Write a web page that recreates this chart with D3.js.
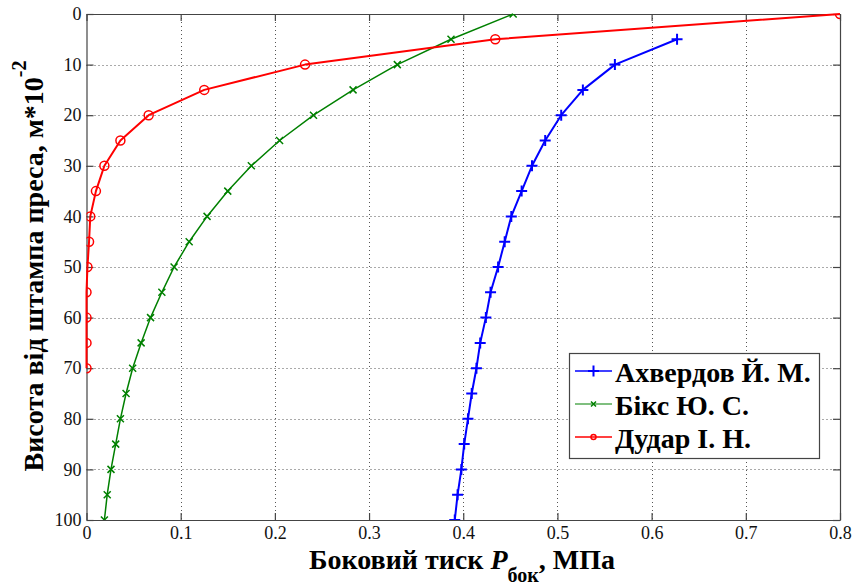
<!DOCTYPE html>
<html>
<head>
<meta charset="utf-8">
<script src="https://cdn.jsdelivr.net/npm/d3@7"></script>
<style>
  html, body { margin: 0; padding: 0; background: #fff; }
  svg { display: block; }
</style>
</head>
<body>
<svg id="chart" width="853" height="585"></svg>
<script>
// Heights from the press punch (м*10^-2)
const heightsAkh = [5, 10, 15, 20, 25, 30, 35, 40, 45, 50, 55, 60, 65, 70, 75, 80, 85, 90, 95, 100];
const heightsBiks = [0, 5, 10, 15, 20, 25, 30, 35, 40, 45, 50, 55, 60, 65, 70, 75, 80, 85, 90, 95, 100];
const heightsDudar = [0, 5, 10, 15, 20, 25, 30, 35, 40, 45, 50, 55, 60, 65, 70];

// Lateral pressure, MPa
const pressureAkh = [0.627, 0.561, 0.527, 0.504, 0.487, 0.473, 0.462, 0.451, 0.444, 0.437, 0.429, 0.424, 0.418, 0.414, 0.409, 0.405, 0.401, 0.398, 0.394, 0.391];
const pressureBiks = [0.453, 0.387, 0.330, 0.283, 0.241, 0.205, 0.175, 0.150, 0.128, 0.109, 0.093, 0.080, 0.068, 0.058, 0.049, 0.042, 0.036, 0.031, 0.026, 0.022, 0.019];
const pressureDudar = [0.800, 0.434, 0.232, 0.125, 0.066, 0.036, 0.019, 0.010, 0.004, 0.0027, 0.001, 0.0, 0.0, 0.0, 0.0];

const seriesNames = ["Ахвердов Й. М.", "Бікс Ю. С.", "Дудар І. Н."];
const xTicks = [0, 0.1, 0.2, 0.3, 0.4, 0.5, 0.6, 0.7, 0.8];
const yTicks = [0, 10, 20, 30, 40, 50, 60, 70, 80, 90, 100];

const FONT = "Liberation Serif";

const series = [
  { name: seriesNames[0], xs: pressureAkh, ys: heightsAkh, color: "#0000ff", marker: "plus", width: 2 },
  { name: seriesNames[1], xs: pressureBiks, ys: heightsBiks, color: "#008000", marker: "cross", width: 1.5 },
  { name: seriesNames[2], xs: pressureDudar, ys: heightsDudar, color: "#ff0000", marker: "circle", width: 2 }
];

const svg = d3.select("#chart").attr("font-family", FONT);
const m = { left: 86.5, right: 840, top: 14, bottom: 520 };

const x = d3.scaleLinear().domain([0, 0.8]).range([m.left, m.right]);
const y = d3.scaleLinear().domain([0, 100]).range([m.top, m.bottom]);

// Dotted grid
const grid = svg.append("g").attr("stroke", "#555").attr("stroke-width", 1).attr("stroke-dasharray", "1,3");
grid.selectAll("line.gx").data(xTicks.slice(1, -1)).enter().append("line")
  .attr("x1", d => Math.round(x(d)) + 0.5).attr("x2", d => Math.round(x(d)) + 0.5)
  .attr("y1", m.top).attr("y2", m.bottom);
grid.selectAll("line.gy").data(yTicks.slice(1, -1)).enter().append("line")
  .attr("y1", d => Math.round(y(d)) + 0.5).attr("y2", d => Math.round(y(d)) + 0.5)
  .attr("x1", m.left).attr("x2", m.right);

// Axes with inward ticks on all four sides
const tickFmt = d => d === 0 ? "0" : d3.format(".1f")(d);
const xAxis = svg.append("g").attr("transform", `translate(0,${m.bottom})`)
  .call(d3.axisBottom(x).tickValues(xTicks).tickFormat(tickFmt).tickSizeInner(-7).tickSizeOuter(0).tickPadding(6.5));
const xAxisTop = svg.append("g").attr("transform", `translate(0,${m.top})`)
  .call(d3.axisTop(x).tickValues(xTicks).tickFormat("").tickSizeInner(-7).tickSizeOuter(0));
const yAxis = svg.append("g").attr("transform", `translate(${m.left},0)`)
  .call(d3.axisLeft(y).tickValues(yTicks).tickSizeInner(-7).tickSizeOuter(0).tickPadding(5));
const yAxisRight = svg.append("g").attr("transform", `translate(${m.right},0)`)
  .call(d3.axisRight(y).tickValues(yTicks).tickFormat("").tickSizeInner(-7).tickSizeOuter(0));

[xAxis, xAxisTop, yAxis, yAxisRight].forEach(g => {
  g.attr("font-family", FONT).attr("font-size", 18);
  g.select(".domain").attr("stroke", "#444").attr("stroke-width", 1.2);
  g.selectAll(".tick line").attr("stroke", "#444").attr("stroke-width", 1.2);
  g.selectAll(".tick text").attr("fill", "#111").attr("font-family", FONT).attr("font-size", 18);
});

// Markers
function drawMarker(g, kind, cx, cy, color, size) {
  if (kind === "plus") {
    g.append("path").attr("d", `M${cx - size},${cy}H${cx + size}M${cx},${cy - size}V${cy + size}`)
      .attr("stroke", color).attr("stroke-width", 2).attr("fill", "none");
  } else if (kind === "cross") {
    g.append("path").attr("d", `M${cx - size},${cy - size}L${cx + size},${cy + size}M${cx - size},${cy + size}L${cx + size},${cy - size}`)
      .attr("stroke", color).attr("stroke-width", 1.5).attr("fill", "none");
  } else {
    g.append("circle").attr("cx", cx).attr("cy", cy).attr("r", size)
      .attr("stroke", color).attr("stroke-width", 1.5).attr("fill", "none");
  }
}
const markerSize = { plus: 5.5, cross: 3.5, circle: 4.5 };

svg.append("clipPath").attr("id", "plotclip").append("rect")
  .attr("x", m.left).attr("y", m.top).attr("width", m.right - m.left).attr("height", m.bottom - m.top);

const plot = svg.append("g");
const line = d3.line().x(d => x(d[0])).y(d => y(d[1]));
series.forEach(s => {
  const pts = s.xs.map((v, i) => [v, s.ys[i]]);
  plot.append("path").datum(pts).attr("d", line)
    .attr("fill", "none").attr("stroke", s.color).attr("stroke-width", s.width)
    .attr("stroke-linejoin", "round");
  const mg = plot.append("g").attr("clip-path", "url(#plotclip)");
  pts.forEach(p => drawMarker(mg, s.marker, x(p[0]), y(p[1]), s.color, markerSize[s.marker]));
});

// Legend
const lg = svg.append("g");
lg.append("rect").attr("x", 569.5).attr("y", 353.5).attr("width", 250).attr("height", 105)
  .attr("fill", "#fff").attr("stroke", "#444").attr("stroke-width", 1.2);
series.forEach((s, i) => {
  const cy = 371 + i * 33;
  lg.append("line").attr("x1", 575).attr("x2", 612).attr("y1", cy).attr("y2", cy)
    .attr("stroke", s.color).attr("stroke-width", s.width === 2 ? 1.5 : 1.2);
  drawMarker(lg, s.marker, 593.5, cy, s.color, s.marker === "plus" ? 5.5 : 2.5);
  lg.append("text").attr("x", 615).attr("y", cy + 11).text(s.name)
    .attr("font-family", FONT).attr("font-size", 28).attr("font-weight", "bold").attr("fill", "#000");
});

// X axis title
const xt = svg.append("text").attr("x", 462).attr("y", 568.5).attr("text-anchor", "middle")
  .attr("font-family", FONT).attr("font-size", 28).attr("font-weight", "bold").attr("fill", "#000");
xt.append("tspan").text("Боковий тиск ");
xt.append("tspan").text("P").attr("font-style", "italic");
xt.append("tspan").text("бок").attr("dy", 13).attr("font-size", 20);
xt.append("tspan").text(", МПа").attr("dy", -13);

// Y axis title
const yt = svg.append("text").attr("transform", "translate(43,266) rotate(-90)").attr("text-anchor", "middle")
  .attr("font-family", FONT).attr("font-size", 28).attr("font-weight", "bold").attr("fill", "#000");
yt.append("tspan").text("Висота від штампа преса, м*10");
yt.append("tspan").text("-2").attr("dy", -17).attr("font-size", 20);
</script>
</body>
</html>
